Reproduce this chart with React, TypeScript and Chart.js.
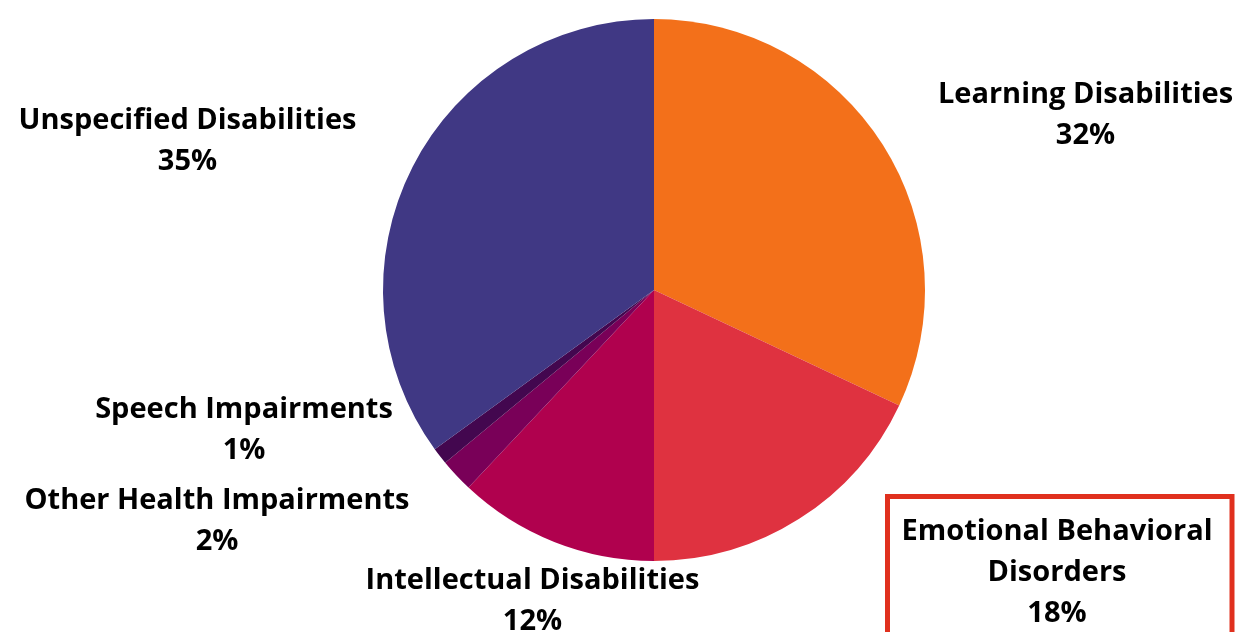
import React, { useEffect, useRef } from "react";
import { Chart, registerables } from "chart.js";

Chart.register(...registerables);

const categories = [
  "Learning Disabilities",
  "Emotional Behavioral\nDisorders",
  "Intellectual Disabilities",
  "Other Health Impairments",
  "Speech Impairments",
  "Unspecified Disabilities",
];
const values = [32, 18, 12, 2, 1, 35];
const colors = ["#F3701A", "#DF3240", "#B0014E", "#790058", "#43074F", "#403884"];

// label block centre offsets from the pie centre (px)
const labelOffsets: [number, number][] = [
  [431.5, -177.5],
  [403, 280.5],
  [-121.5, 308.5],
  [-437, 229],
  [-410, 138],
  [-466.5, -151],
];
const highlightIndex = 1;

const labelPlugin = {
  id: "outerLabels",
  afterDatasetsDraw(chart: any) {
    const ctx = chart.ctx as CanvasRenderingContext2D;
    const meta = chart.getDatasetMeta(0);
    ctx.save();
    ctx.font = "bold 29px 'Open Sans'";
    ctx.fillStyle = "#000";
    ctx.textAlign = "center";
    ctx.textBaseline = "middle";
    const lh = 41;
    meta.data.forEach((arc: any, i: number) => {
      const lines = [...categories[i].split("\n"), values[i] + "%"];
      const cx = arc.x + labelOffsets[i][0];
      const cy = arc.y + labelOffsets[i][1];
      const startY = cy - ((lines.length - 1) * lh) / 2;
      lines.forEach((ln, k) => {
        ctx.fillText(ln, cx, startY + k * lh + 2.5);
      });
      if (i === highlightIndex) {
        ctx.strokeStyle = "#E0301E";
        ctx.lineWidth = 5;
        ctx.strokeRect(cx - 169.5, cy - 74, 344.5, 138.3);
      }
    });
    ctx.restore();
  },
};

export default function App() {
  const ref = useRef<HTMLCanvasElement | null>(null);
  useEffect(() => {
    document.body.style.margin = "0";
    if (!ref.current) return;
    const chart = new Chart(ref.current, {
      type: "pie",
      data: {
        labels: categories.map((c) => c.replace("\n", " ")),
        datasets: [
          {
            data: values,
            backgroundColor: colors,
            borderWidth: 0,
          },
        ],
      },
      options: {
        animation: false,
        responsive: false,
        maintainAspectRatio: false,
        layout: { padding: { top: 19, bottom: 71, left: 70, right: 0 } },
        plugins: {
          legend: { display: false },
          tooltip: { enabled: false },
        },
      },
      plugins: [labelPlugin],
    });
    return () => chart.destroy();
  }, []);
  return (
    <div style={{ width: 1238, height: 632, background: "#fff" }}>
      <canvas ref={ref} width={1238} height={632} style={{ display: "block" }} />
    </div>
  );
}
